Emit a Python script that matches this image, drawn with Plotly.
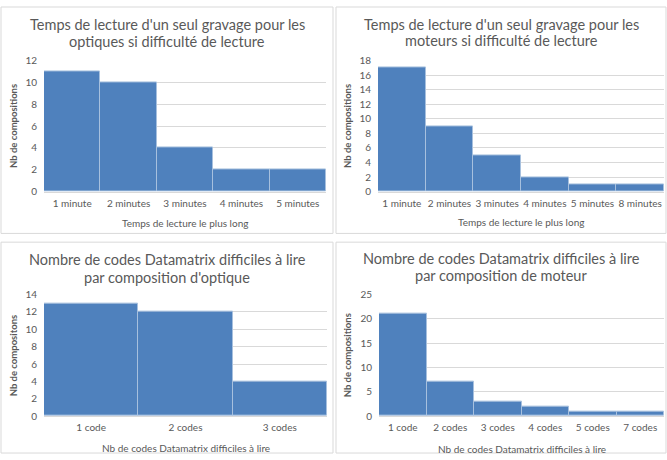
import plotly.graph_objects as go

W, H = 667, 460

# ---- data ----
cats_tl = ["1 minute", "2 minutes", "3 minutes", "4 minutes", "5 minutes"]
vals_tl = [11, 10, 4, 2, 2]
cats_tr = ["1 minute", "2 minutes", "3 minutes", "4 minutes", "5 minutes", "8 minutes"]
vals_tr = [17, 9, 5, 2, 1, 1]
cats_bl = ["1 code", "2 codes", "3 codes"]
vals_bl = [13, 12, 4]
cats_br = ["1 code", "2 codes", "3 codes", "4 codes", "5 codes", "7 codes"]
vals_br = [21, 7, 3, 2, 1, 1]

titles = [
    ("Temps de lecture d'un seul gravage pour les", "optiques si difficulté de lecture"),
    ("Temps de lecture d'un seul gravage pour les", "moteurs si difficulté de lecture"),
    ("Nombre de codes Datamatrix difficiles à lire", "par composition d'optique"),
    ("Nombre de codes Datamatrix difficiles à lire", "par composition de moteur"),
]
xtitles = ["Temps de lecture le plus long", "Temps de lecture le plus long",
           "Nb de codes Datamatrix difficiles à lire", "Nb de codes Datamatrix difficiles à lire"]
ytitles = ["Nb de compositions", "Nb de compositions", "Nb de compositons", "Nb de compositions"]

FONT = "Lato"
BAR = "#4F81BD"
GRID = "#D9D9D9"
TXT = "#595959"

# pixel layouts: (x0, x1, ytop, ybottom) of plot areas
areas = [(44, 326, 55, 190), (378, 664, 55, 190), (44, 327, 296, 421), (379, 664, 296, 421)]
panels = [(1, 0, 333, 233), (336, 0, 666, 233), (1, 242, 333, 459), (336, 242, 666, 459)]
title_y = [(18, 35), (18, 34), (260, 278), (259, 276)]
xt_y = [222, 221, 454, 455]
yt_x = [13, 347, 13, 347]
yranges = [(12, 2), (18, 2), (14, 2), (25, 5)]

data = [(cats_tl, vals_tl), (cats_tr, vals_tr), (cats_bl, vals_bl), (cats_br, vals_br)]

def px(x):
    return x / W

def py(y):
    return 1 - y / H

fig = go.Figure()
shapes = []
annotations = []
for i, ((cats, vals), (x0, x1, yt, yb)) in enumerate(zip(data, areas)):
    n = "" if i == 0 else str(i + 1)
    fig.add_trace(go.Bar(x=cats, y=vals, xaxis="x" + n, yaxis="y" + n,
                         marker=dict(color=BAR, line=dict(color="#A7C0DE", width=1)),
                         hoverinfo="skip", showlegend=False))
    ymax, dt = yranges[i]
    fig.update_layout(**{
        "xaxis" + n: dict(domain=[px(x0), px(x1)], anchor="y" + n, showgrid=False,
                          showline=True, linecolor=GRID, ticks="", ticklabelstandoff=2,
                          tickfont=dict(family=FONT, size=10, color=TXT), fixedrange=True),
        "yaxis" + n: dict(domain=[py(yb), py(yt)], anchor="x" + n, range=[0, ymax], dtick=dt,
                          showgrid=True, gridcolor=GRID, gridwidth=1, zeroline=False,
                          showline=False, ticks="", ticklabelstandoff=6,
                          tickfont=dict(family=FONT, size=10, color=TXT), fixedrange=True),
    })
    bx0, by0, bx1, by1 = panels[i]
    shapes.append(dict(type="rect", xref="paper", yref="paper", x0=px(bx0), x1=px(bx1),
                       y0=py(by1), y1=py(by0), line=dict(color=GRID, width=1), layer="below"))
    cx = (bx0 + bx1) / 2
    for line, ly in zip(titles[i], title_y[i]):
        annotations.append(dict(text=line, xref="paper", yref="paper", x=px(cx),
                                y=py(ly), showarrow=False, xanchor="center",
                                yanchor="middle", font=dict(family=FONT, size=14.5, color=TXT)))
    annotations.append(dict(text=xtitles[i], xref="paper", yref="paper", x=px((x0 + x1) / 2),
                            y=py(xt_y[i]), showarrow=False, xanchor="center", yanchor="middle",
                            font=dict(family=FONT, size=10, color=TXT)))
    annotations.append(dict(text="<b>" + ytitles[i] + "</b>", xref="paper", yref="paper",
                            x=px(yt_x[i]), y=py((yt + yb) / 2), showarrow=False, textangle=-90,
                            xanchor="center", yanchor="middle",
                            font=dict(family=FONT, size=9.5, color=TXT)))

fig.update_layout(width=W, height=H, margin=dict(l=0, r=0, t=0, b=0),
                  paper_bgcolor="white", plot_bgcolor="white", bargap=0,
                  shapes=shapes, annotations=annotations)

fig.write_html("out.html", config={"displayModeBar": False},
               post_script="document.body.style.margin='0px';document.body.style.padding='0px';")
